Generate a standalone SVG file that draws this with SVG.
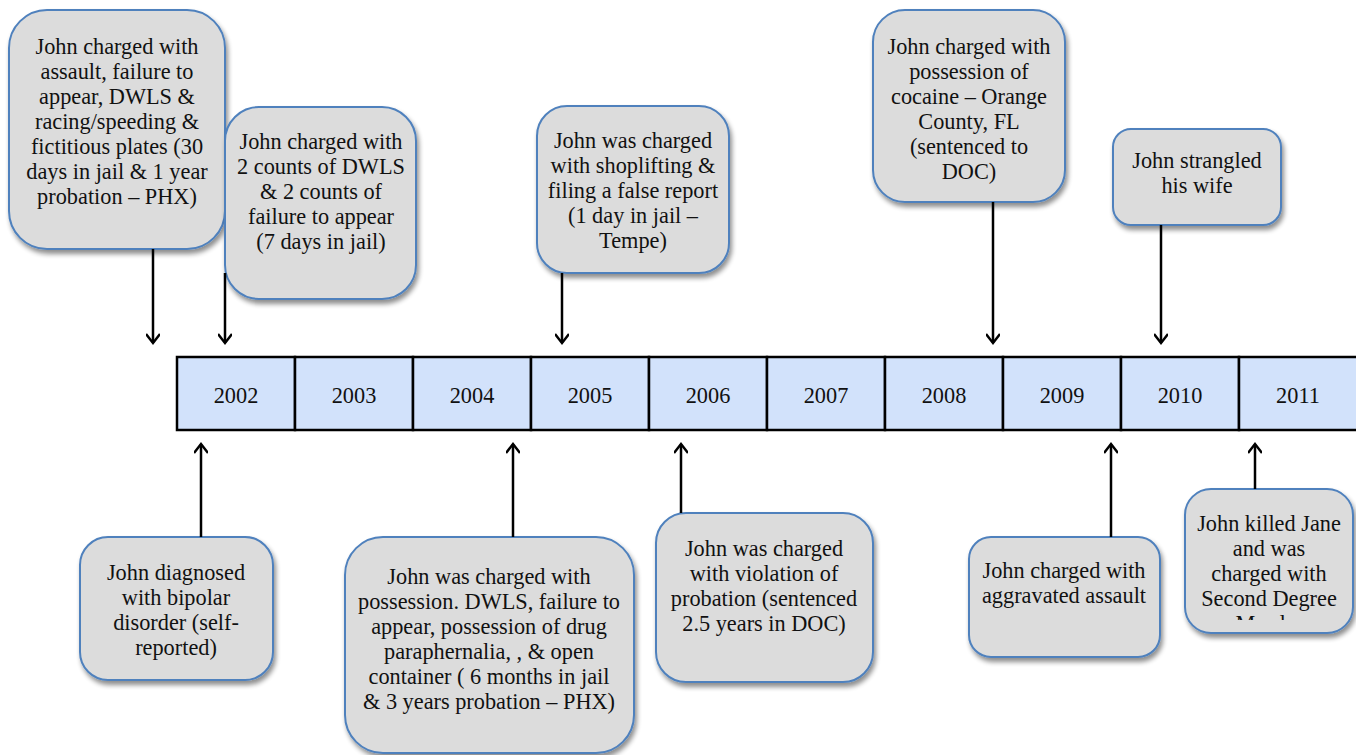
<svg xmlns="http://www.w3.org/2000/svg" width="1356" height="755" viewBox="0 0 1356 755">
<style>
.box{fill:#dcdcdc;stroke:#4f81bd;stroke-width:2;filter:url(#sh)}
.t{font-family:"Liberation Serif",serif;font-size:22.3px;fill:#111;text-anchor:middle}
.cell{fill:#d2e2fb;stroke:#000;stroke-width:2.5}
.ar{stroke:#000;stroke-width:2.5;fill:none;marker-end:url(#ah)}
</style>
<defs>
<filter id="sh" x="-10%" y="-10%" width="125%" height="125%">
<feGaussianBlur in="SourceAlpha" stdDeviation="2.5"/>
<feOffset dx="2" dy="4" result="b"/>
<feComponentTransfer><feFuncA type="linear" slope="0.45"/></feComponentTransfer>
<feMerge><feMergeNode/><feMergeNode in="SourceGraphic"/></feMerge>
</filter>
<marker id="ah" markerWidth="14" markerHeight="14" refX="10" refY="7" orient="auto" markerUnits="userSpaceOnUse">
<path d="M1,0 L10,7 L1,14" fill="none" stroke="#000" stroke-width="2.5"/>
</marker>
<clipPath id="clipMurder"><rect x="1185" y="489" width="170" height="131"/></clipPath>
</defs>

<g id="node-2002a">
<rect class="box" x="9" y="10" width="216" height="239" rx="38"/>
<text class="t"><tspan x="117" y="54">John charged with</tspan><tspan x="117" y="79">assault, failure to</tspan><tspan x="117" y="104">appear, DWLS &amp;</tspan><tspan x="117" y="129">racing/speeding &amp;</tspan><tspan x="117" y="154">fictitious plates (30</tspan><tspan x="117" y="179">days in jail &amp; 1 year</tspan><tspan x="117" y="204">probation – PHX)</tspan></text>
</g>

<g id="node-2002b">
<rect class="box" x="225" y="107" width="191" height="192" rx="34"/>
<text class="t"><tspan x="321" y="149">John charged with</tspan><tspan x="321" y="174">2 counts of DWLS</tspan><tspan x="321" y="199">&amp; 2 counts of</tspan><tspan x="321" y="224">failure to appear</tspan><tspan x="321" y="249">(7 days in jail)</tspan></text>
</g>

<g id="node-2005">
<rect class="box" x="537" y="106" width="192" height="167" rx="30"/>
<text class="t"><tspan x="633" y="148">John was charged</tspan><tspan x="633" y="173">with shoplifting &amp;</tspan><tspan x="633" y="198">filing a false report</tspan><tspan x="633" y="223">(1 day in jail –</tspan><tspan x="633" y="248">Tempe)</tspan></text>
</g>

<g id="node-2008">
<rect class="box" x="873" y="10" width="192" height="192" rx="32"/>
<text class="t"><tspan x="969" y="54">John charged with</tspan><tspan x="969" y="79">possession of</tspan><tspan x="969" y="104">cocaine – Orange</tspan><tspan x="969" y="129">County, FL</tspan><tspan x="969" y="154">(sentenced to</tspan><tspan x="969" y="179">DOC)</tspan></text>
</g>

<g id="node-2010">
<rect class="box" x="1113" y="129" width="168" height="96" rx="18"/>
<text class="t"><tspan x="1197" y="168">John strangled</tspan><tspan x="1197" y="193">his wife</tspan></text>
</g>

<g id="timeline">
<rect class="cell" x="177" y="357" width="118" height="73"/>
<rect class="cell" x="295" y="357" width="118" height="73"/>
<rect class="cell" x="413" y="357" width="118" height="73"/>
<rect class="cell" x="531" y="357" width="118" height="73"/>
<rect class="cell" x="649" y="357" width="118" height="73"/>
<rect class="cell" x="767" y="357" width="118" height="73"/>
<rect class="cell" x="885" y="357" width="118" height="73"/>
<rect class="cell" x="1003" y="357" width="118" height="73"/>
<rect class="cell" x="1121" y="357" width="118" height="73"/>
<rect class="cell" x="1239" y="357" width="120" height="73"/>
<text class="t"><tspan x="236" y="403">2002</tspan><tspan x="354" y="403">2003</tspan><tspan x="472" y="403">2004</tspan><tspan x="590" y="403">2005</tspan><tspan x="708" y="403">2006</tspan><tspan x="826" y="403">2007</tspan><tspan x="944" y="403">2008</tspan><tspan x="1062" y="403">2009</tspan><tspan x="1180" y="403">2010</tspan><tspan x="1298" y="403">2011</tspan></text>
</g>

<g id="node-bipolar">
<rect class="box" x="80" y="537" width="193" height="143" rx="28"/>
<text class="t"><tspan x="176" y="580">John diagnosed</tspan><tspan x="176" y="605">with bipolar</tspan><tspan x="176" y="630">disorder (self-</tspan><tspan x="176" y="655">reported)</tspan></text>
</g>

<g id="node-2004">
<rect class="box" x="345" y="537" width="289" height="216" rx="38"/>
<text class="t"><tspan x="489" y="584">John was charged with</tspan><tspan x="489" y="609">possession. DWLS, failure to</tspan><tspan x="489" y="634">appear, possession of drug</tspan><tspan x="489" y="659">paraphernalia, , &amp; open</tspan><tspan x="489" y="684">container ( 6 months in jail</tspan><tspan x="489" y="709">&amp; 3 years probation – PHX)</tspan></text>
</g>

<g id="node-2006">
<rect class="box" x="656" y="513" width="217" height="169" rx="30"/>
<text class="t"><tspan x="764" y="556">John was charged</tspan><tspan x="764" y="581">with violation of</tspan><tspan x="764" y="606">probation (sentenced</tspan><tspan x="764" y="631">2.5 years in DOC)</tspan></text>
</g>

<g id="node-2009">
<rect class="box" x="969" y="537" width="191" height="120" rx="22"/>
<text class="t"><tspan x="1064" y="578">John charged with</tspan><tspan x="1064" y="603">aggravated assault</tspan></text>
</g>

<g id="node-2011">
<rect class="box" x="1185" y="489" width="168" height="144" rx="26"/>
<text class="t"><tspan x="1269" y="531">John killed Jane</tspan><tspan x="1269" y="556">and was</tspan><tspan x="1269" y="581">charged with</tspan><tspan x="1269" y="606">Second Degree</tspan></text>
<text class="t" clip-path="url(#clipMurder)" x="1269" y="631">Murder</text>
</g>

<g id="connectors">
<line class="ar" x1="153" y1="249" x2="153" y2="343"/>
<line class="ar" x1="225" y1="273" x2="225" y2="343"/>
<line class="ar" x1="562" y1="273" x2="562" y2="343"/>
<line class="ar" x1="993" y1="202" x2="993" y2="343"/>
<line class="ar" x1="1161" y1="225" x2="1161" y2="343"/>
<line class="ar" x1="201" y1="537" x2="201" y2="444"/>
<line class="ar" x1="513" y1="537" x2="513" y2="444"/>
<line class="ar" x1="681" y1="513" x2="681" y2="444"/>
<line class="ar" x1="1111" y1="537" x2="1111" y2="444"/>
<line class="ar" x1="1255" y1="489" x2="1255" y2="444"/>
</g>
</svg>
